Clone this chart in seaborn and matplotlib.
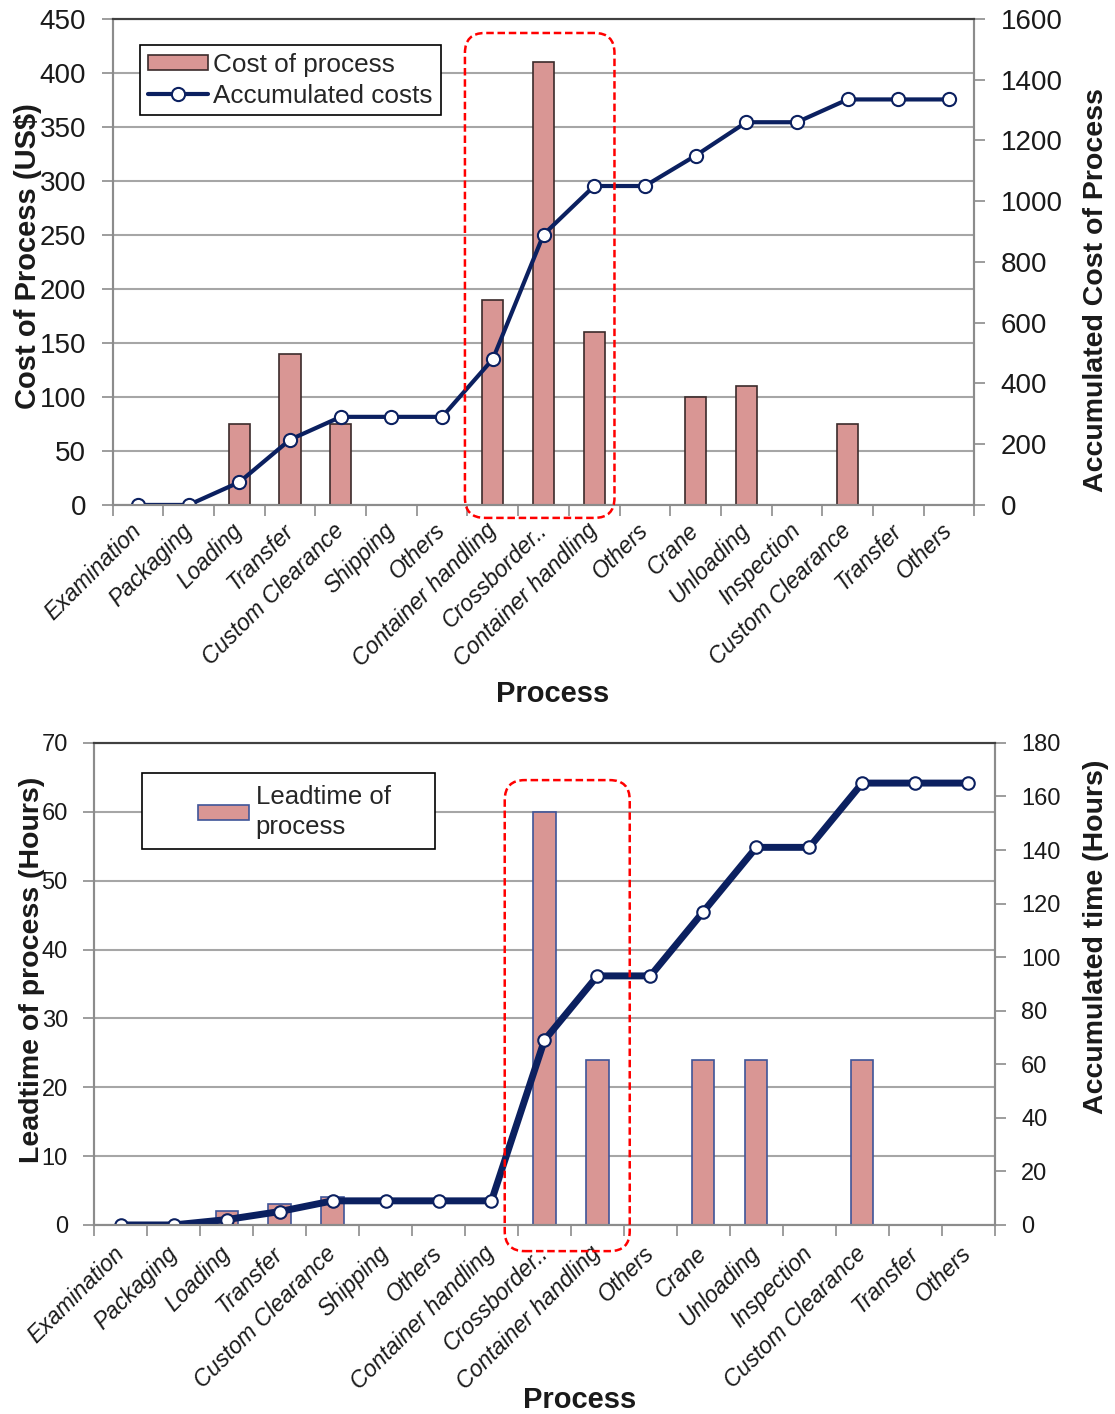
import numpy as np
import seaborn as sns
import matplotlib.pyplot as plt
from matplotlib.lines import Line2D
from matplotlib.patches import Patch, FancyBboxPatch, Rectangle

# ---- data ----
processes = ["Examination", "Packaging", "Loading", "Transfer", "Custom Clearance",
             "Shipping", "Others", "Container handling", "Crossborder..",
             "Container handling", "Others", "Crane", "Unloading", "Inspection",
             "Custom Clearance", "Transfer", "Others"]
positions = list(range(len(processes)))

cost = [0, 0, 75, 140, 75, 0, 0, 190, 410, 160, 0, 100, 110, 0, 75, 0, 0]
cost_acc = [0, 0, 75, 215, 290, 290, 290, 480, 890, 1050, 1050, 1150,
            1260, 1260, 1335, 1335, 1335]

leadtime = [0, 0, 2, 3, 4, 0, 0, 0, 60, 24, 0, 24, 24, 0, 24, 0, 0]
leadtime_acc = [0, 0, 2, 5, 9, 9, 9, 9, 69, 93, 93, 117, 141, 141, 165, 165, 165]

# ---- style ----
sns.set_theme(style="white")
plt.rcParams['font.family'] = ['Liberation Sans', 'DejaVu Sans']

NAVY = "#0B2060"
BAR = "#D99694"
GRID = "#A6A6A6"
SPINE = "#8C8C8C"
TXT = "#1A1A1A"

fig = plt.figure(figsize=(11.15, 14.14), dpi=100)
ax_top = fig.add_axes([0.101, 0.6429, 0.7729, 0.3437])
ax_bot = fig.add_axes([0.0845, 0.1337, 0.8076, 0.3409])


def panel(ax, bars, acc, bar_edge, lw, ms, lmax, lstep, rmax, rstep, tick_fs, xpad):
    ax.set_axisbelow(True)
    sns.barplot(x=positions, y=bars, ax=ax, color=BAR, saturation=1, width=0.42,
                edgecolor=bar_edge, linewidth=1.2)
    for p in ax.patches:
        if p.get_height() == 0:
            p.set_linewidth(0)
    ax2 = ax.twinx()
    sns.lineplot(x=positions, y=acc, ax=ax2, color=NAVY, linewidth=lw, marker='o',
                 markersize=ms, markerfacecolor='white', markeredgecolor=NAVY,
                 markeredgewidth=1.5)
    ax.set_xlim(-0.5, len(processes) - 0.5)
    ax.set_ylim(0, lmax)
    ax.set_yticks(np.arange(0, lmax + 1, lstep))
    ax2.set_ylim(0, rmax)
    ax2.set_yticks(np.arange(0, rmax + 1, rstep))

    ax.yaxis.grid(True, color=GRID, lw=1.5)
    ax.xaxis.grid(False)
    ax2.grid(False)

    ax.set_xticks(positions)
    ax.set_xticklabels(processes, rotation=45, ha='right', va='center',
                       rotation_mode='anchor', fontstyle='italic', fontsize=16.5,
                       color=TXT)
    ax.set_xticks(np.arange(-0.5, len(processes)), minor=True)
    ax.tick_params(axis='x', which='major', bottom=True, length=0, pad=xpad)
    ax.tick_params(axis='x', which='minor', bottom=True, length=8, width=1.2,
                   color=SPINE, direction='out')
    ax.tick_params(axis='y', left=True, length=8, width=1.2, color=SPINE,
                   labelsize=tick_fs, labelcolor=TXT, pad=11, direction='out')
    ax2.tick_params(axis='y', right=True, length=8, width=1.2, color=SPINE,
                    labelsize=tick_fs, labelcolor=TXT, pad=11, direction='out')

    for a in (ax, ax2):
        for side in ("left", "right", "bottom"):
            a.spines[side].set_color(SPINE)
            a.spines[side].set_linewidth(1.5)
        a.spines["top"].set_color("#404040")
        a.spines["top"].set_linewidth(1.5)
    return ax2


def highlight(ax, host, x0, x1, y0, y1, radius_px=20):
    p0 = ax.transData.transform((0, 0))
    px = ax.transData.transform((1, 0))[0] - p0[0]
    py = ax.transData.transform((0, 1))[1] - p0[1]
    box = FancyBboxPatch((x0, y0), x1 - x0, y1 - y0,
                         boxstyle=f"round,pad=0,rounding_size={radius_px / px}",
                         mutation_aspect=px / py, transform=ax.transData,
                         fill=False, edgecolor="red", lw=1.8,
                         linestyle=(0, (3, 1.5)), clip_on=False, zorder=10)
    host.add_patch(box)


# ---- top: cost ----
ax_top2 = panel(ax_top, cost, cost_acc, "#3B2B2B", 3.0, 9.5,
                450, 50, 1600, 200, 20, 16)
ax_top.set_xlabel("Process", fontsize=21, fontweight='bold', color=TXT)
ax_top.xaxis.set_label_coords(0.511, -0.36)
ax_top.set_ylabel("Cost of Process (US$)", fontsize=21, fontweight='bold', color=TXT)
ax_top.yaxis.set_label_coords(-0.082, 0.513)
ax_top2.set_ylabel("Accumulated Cost of Process", fontsize=20.5, fontweight='bold',
                   color=TXT)
ax_top2.yaxis.set_label_coords(1.126, 0.443)

handles = [Patch(facecolor=BAR, edgecolor="#3B2B2B", lw=1.2),
           Line2D([0], [0], color=NAVY, lw=3.0, marker='o', ms=9.5,
                  mfc='white', mec=NAVY, mew=1.5)]
leg = ax_top2.legend(handles, ["Cost of process", "Accumulated costs"],
                     loc='upper left', bbox_to_anchor=(0.032, 0.946),
                     borderaxespad=0, fontsize=18.8, frameon=True, fancybox=False,
                     edgecolor='black', framealpha=1, handlelength=2.3,
                     handleheight=0.5, handletextpad=0.2, borderpad=0.3,
                     labelspacing=0.25)
leg.get_frame().set_linewidth(1.2)
highlight(ax_top, ax_top2, 6.45, 9.40, -12, 437)

# ---- bottom: leadtime ----
ax_bot2 = panel(ax_bot, leadtime, leadtime_acc, "#3F5598", 5, 9,
                70, 10, 180, 20, 17, 18)
ax_bot.set_xlabel("Process", fontsize=21, fontweight='bold', color=TXT)
ax_bot.xaxis.set_label_coords(0.539, -0.335)
ax_bot.set_ylabel("Leadtime of process (Hours)", fontsize=20.5, fontweight='bold',
                  color=TXT)
ax_bot.yaxis.set_label_coords(-0.055, 0.529)
ax_bot2.set_ylabel("Accumulated time (Hours)", fontsize=20.5, fontweight='bold',
                   color=TXT)
ax_bot2.yaxis.set_label_coords(1.098, 0.598)

ax_bot2.add_patch(Rectangle((0.053, 0.780), 0.325, 0.158, transform=ax_bot2.transAxes,
                            facecolor='white', edgecolor='black', lw=1.2, zorder=4))
leg2 = ax_bot2.legend([Patch(facecolor=BAR, edgecolor="#3F5598", lw=1.2)],
                      ["Leadtime of\nprocess"], loc='upper left',
                      bbox_to_anchor=(0.115, 0.912), borderaxespad=0, borderpad=0,
                      fontsize=18.5, frameon=False, handlelength=2.0,
                      handleheight=0.5, handletextpad=0.25)
leg2.get_texts()[0].set_linespacing(1.3)
leg2.set_zorder(5)
highlight(ax_bot, ax_bot2, 7.25, 9.61, -3.8, 64.6)

fig.savefig("out.png", dpi=100)
